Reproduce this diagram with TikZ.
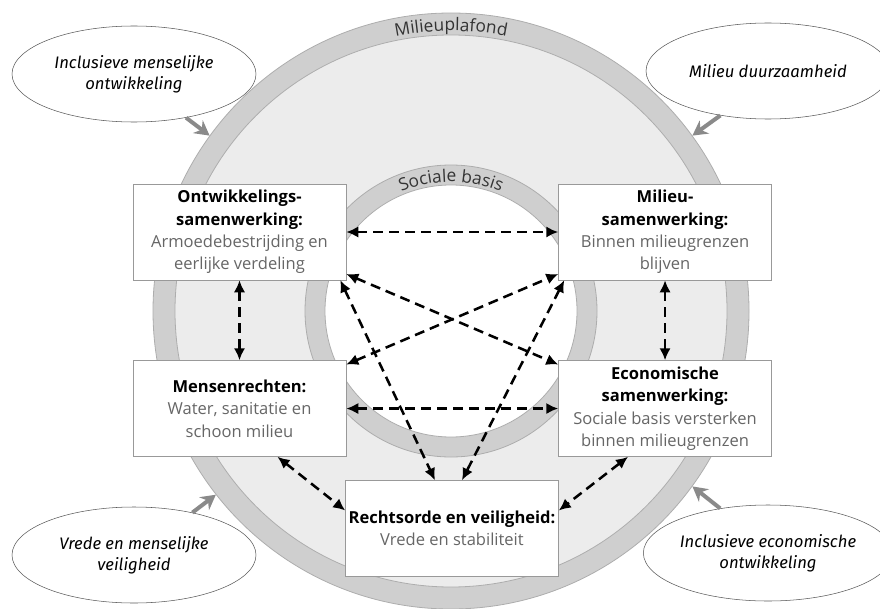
\documentclass[tikz,border=0pt]{standalone}
\usepackage{fontspec}
\setmainfont{Open Sans}
\newfontfamily\goalfont{Fira Sans}
\usetikzlibrary{shapes.geometric,arrows.meta,positioning,calc,decorations.text}
\definecolor{ringgray}{HTML}{CFCFCF}
\definecolor{ringedge}{HTML}{ADADAD}
\definecolor{diskgray}{HTML}{ECECEC}
\definecolor{textgray}{HTML}{666666}
\definecolor{pushgray}{HTML}{8A8A8A}
\tikzstyle{pillar} = [draw=black!40, fill=white, shape=rectangle, minimum width=159.75pt, minimum height=72pt, inner sep=0pt, align=center, font=\fontsize{12.4}{16.8}\selectfont]
\tikzstyle{goalbox} = [draw=black!65, fill=white, shape=ellipse, minimum width=183pt, minimum height=72pt, inner sep=0pt, align=center, font=\goalfont\fontsize{12.5}{16}\selectfont\itshape]
\tikzstyle{zone} = [shape=circle, inner sep=0pt, draw=ringedge, line width=.6pt]
\tikzstyle{Arrow} = [{Latex[length=9pt,width=8.5pt]}-{Latex[length=9pt,width=8.5pt]}, dash pattern=on 7.5pt off 4.5pt, line width=1.9pt]
\tikzstyle{Push} = [-{Stealth[length=11pt,width=12pt]}, draw=pushgray, line width=3pt]

\begin{document}
\begin{tikzpicture}[x=.75pt,y=.75pt]
            \useasboundingbox (0,0) rectangle (880,608);
            \coordinate (C) at (451,297);
            %%%%% Rings %%%%%
            \node (plafond) [zone, fill=ringgray, minimum size=447pt] at (C) {};
            \node [zone, fill=diskgray, minimum size=414pt] at (C) {};
            \node [zone, fill=ringgray, minimum size=219pt] at (C) {};
            \node (basis) [zone, fill=white, minimum size=189pt] at (C) {};
            \path [decorate, decoration={text along path, text align=center,
                text={|\fontsize{13}{13}\selectfont\color{black!80}|Milieuplafond}}]
                ($(C)+(150:210pt)$) arc [start angle=150, end angle=30, radius=210pt];
            \path [decorate, decoration={text along path, text align=center,
                text={|\fontsize{13}{13}\selectfont\color{black!80}|Sociale basis}}]
                ($(C)+(160:96.75pt)$) arc [start angle=160, end angle=20, radius=96.75pt];
            %%%%% Goals %%%%%
            \node (IM) [goalbox] at (134,534) {Inclusieve menselijke\\ontwikkeling};
            \node (MD) [goalbox] at (768,537) {Milieu duurzaamheid};
            \node (VM) [goalbox] at (134,53) {Vrede en menselijke\\veiligheid};
            \node (IE) [goalbox] at (768,55) {Inclusieve economische\\ontwikkeling};
            \draw [Push] (IM.-40) -- (plafond.144);
            \draw [Push] (MD.-137) -- (plafond.36.5);
            \draw [Push] (VM.36) -- (plafond.218);
            \draw [Push] (IE.137) -- (plafond.-36.8);
            %%%%% Pillars %%%%%
            \node (O) [pillar] at (239.5,376) {\textbf{Ontwikkelings-}\\\textbf{samenwerking:}\\\textcolor{textgray}{Armoedebestrijding en}\\\textcolor{textgray}{eerlijke verdeling}};
            \node (M) [pillar, right=159pt of O] {\textbf{Milieu-}\\\textbf{samenwerking:}\\\textcolor{textgray}{Binnen milieugrenzen}\\\textcolor{textgray}{blijven}};
            \node (H) [pillar, below=60pt of O] {\textbf{Mensenrechten:}\\\textcolor{textgray}{Water, sanitatie en}\\\textcolor{textgray}{schoon milieu}};
            \node (E) [pillar, below=60pt of M] {\textbf{Economische}\\\textbf{samenwerking:}\\\textcolor{textgray}{Sociale basis versterken}\\\textcolor{textgray}{binnen milieugrenzen}};
            \node (R) [pillar] at (452,79.5) {\textbf{Rechtsorde en veiligheid:}\\\textcolor{textgray}{Vrede en stabiliteit}};
            %%%%% Links %%%%%
            \draw [Arrow] (O) -- (M);
            \draw [Arrow] (O) -- (H);
            \draw [Arrow] (M) -- (E);
            \draw [Arrow] (H) -- (E);
            \draw [Arrow] ($(O.east)+(0,-42)$) -- ($(E.west)+(0,44)$);
            \draw [Arrow] ($(H.east)+(0,44)$) -- ($(M.west)+(0,-42)$);
            \draw [Arrow] ($(O.south east)+(-6,0)$) -- ($(R.north)+(-17,0)$);
            \draw [Arrow] ($(M.south west)+(6,0)$) -- ($(R.north)+(10,0)$);
            \draw [Arrow] ($(H.south)+(38,0)$) -- ($(R.west)+(0,18)$);
            \draw [Arrow] ($(E.south)+(-37,0)$) -- ($(R.east)+(0,18)$);
\end{tikzpicture}
\end{document}
